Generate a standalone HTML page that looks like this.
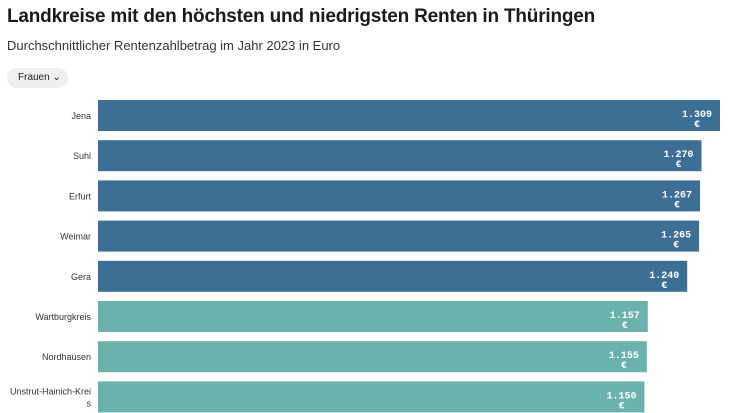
<!DOCTYPE html>
<html><head><meta charset="utf-8"><style>
body{margin:0;width:735px;height:413px;overflow:hidden;background:#fff;font-family:"Liberation Sans",sans-serif;}
h1{position:absolute;left:7px;top:6px;margin:0;font-size:19px;font-weight:bold;color:#1a1a1a;letter-spacing:-0.2px}
.sub{position:absolute;left:7px;top:38px;font-size:13px;color:#333}
.btn{position:absolute;left:7px;top:68px;width:61px;height:20px;border-radius:10px;background:#efefef;font-size:10px;line-height:20px;text-indent:11px;color:#222}
svg{position:absolute;left:0;top:0}
</style></head><body>
<h1>Landkreise mit den höchsten und niedrigsten Renten in Thüringen</h1>
<div class="sub">Durchschnittlicher Rentenzahlbetrag im Jahr 2023 in Euro</div>
<div class="btn">Frauen &#8964;</div>
<svg id="c" width="735" height="413"></svg>
<script>
const categories=["Jena","Suhl","Erfurt","Weimar","Gera","Wartburgkreis","Nordhausen","Unstrut-Hainich-Krei|s"];
const values=[1309,1270,1267,1265,1240,1157,1155,1150];
const valueLabels=["1.309","1.270","1.267","1.265","1.240","1.157","1.155","1.150"];
const groups=["high","high","high","high","high","low","low","low"];
const svg=document.getElementById('c');const NS='http://www.w3.org/2000/svg';
const x0=98,x1=720,maxV=1309;
const xs=v=>x0+(v/maxV)*(x1-x0);
const ys=i=>100+i*40.2;
function mk(t,a){const e=document.createElementNS(NS,t);for(const k in a)e.setAttribute(k,a[k]);svg.appendChild(e);return e;}
categories.forEach((c,i)=>{
  const y=ys(i),xe=xs(values[i]);
  const r=mk('rect',{x:x0,y:y,width:xe-x0,height:31,fill:groups[i]==='high'?'#3d6e94':'#6bb1ac'});
  
  
  const parts=c.split('|');
  parts.forEach((p,j)=>{
    const t=mk('text',{x:91,y:y+(parts.length>1?13+j*12:19),'text-anchor':'end','font-size':'9',fill:'#333'});
    t.textContent=p;
    
    
  });
  const v=mk('text',{x:xe-23,y:y+17,'text-anchor':'middle','font-size':'10','font-weight':'bold',fill:'#fff','font-family':'Liberation Mono, monospace'});
  v.textContent=valueLabels[i];
  
  
  const e=mk('text',{x:xe-23,y:y+27,'text-anchor':'middle','font-size':'10','font-weight':'bold',fill:'#fff','font-family':'Liberation Mono, monospace'});
  e.textContent='€';
  
  
});
</script>
</body></html>
